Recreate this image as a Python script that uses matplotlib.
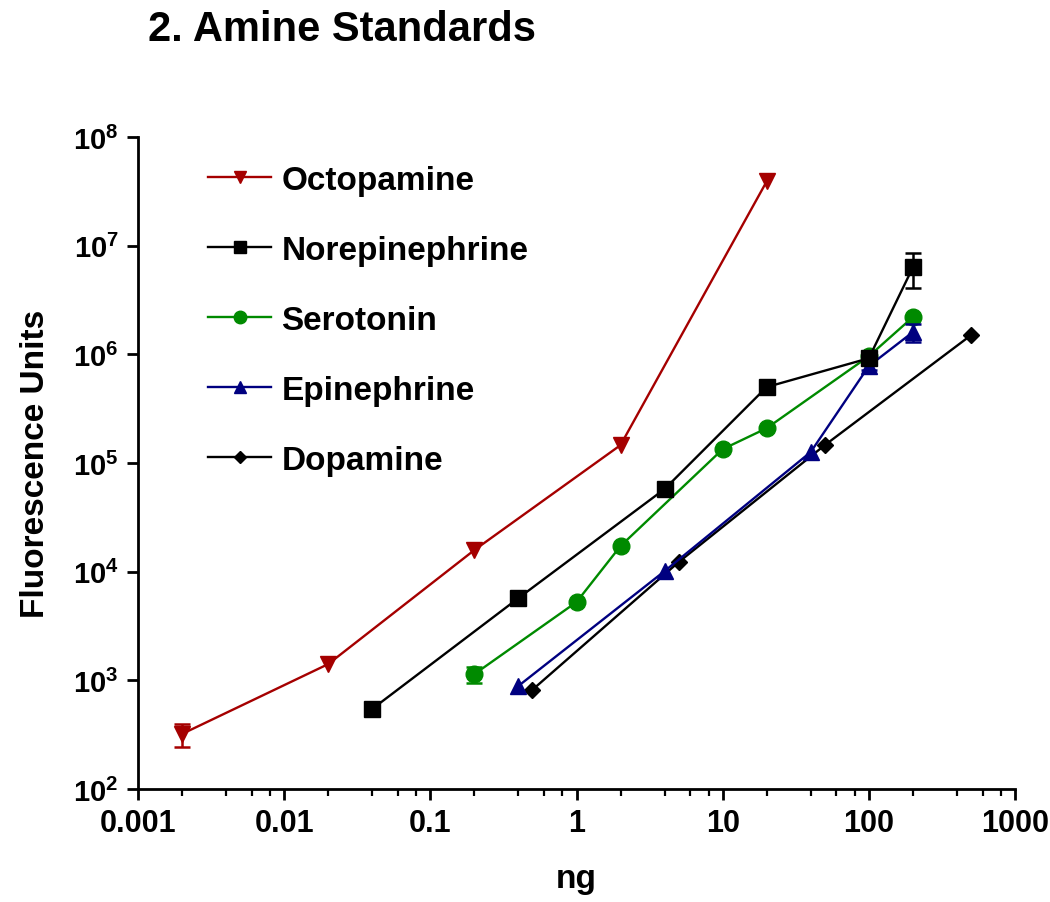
import numpy as np
import matplotlib
matplotlib.use("Agg")
import matplotlib.pyplot as plt
from matplotlib.ticker import FixedLocator, FuncFormatter, NullFormatter

plt.rcParams['font.family'] = ['Liberation Sans', 'DejaVu Sans']
plt.rcParams['font.weight'] = 'bold'
plt.rcParams['mathtext.fontset'] = 'custom'
plt.rcParams['mathtext.rm'] = 'Liberation Sans:bold'
plt.rcParams['mathtext.bf'] = 'Liberation Sans:bold'

# ---- data ----
names = ["Octopamine", "Norepinephrine", "Serotonin", "Epinephrine", "Dopamine"]

octo_x = [0.002, 0.02, 0.2, 2, 20]
octo_y = [321, 1410, 15800, 146000, 3.9e7]
octo_err = [75, 0, 0, 0, 0]

ne_x = [0.04, 0.4, 4, 20, 100, 200]
ne_y = [545, 5700, 57500, 500000, 920000, 6.3e6]
ne_err = [0, 0, 0, 0, 90000, 2.2e6]

sero_x = [0.2, 1, 2, 10, 20, 100, 200]
sero_y = [1140, 5250, 17200, 134000, 209000, 960000, 2.2e6]
sero_err = [200, 0, 0, 0, 0, 0, 0]

epi_x = [0.4, 4, 40, 100, 200]
epi_y = [887, 10100, 126000, 780000, 1.6e6]
epi_err = [0, 0, 0, 60000, 3.0e5]

dopa_x = [0.5, 5, 50, 500]
dopa_y = [820, 12250, 146000, 1.5e6]
dopa_err = [0, 0, 0, 0]

x_ticks = [0.001, 0.01, 0.1, 1, 10, 100, 1000]
x_ticklabels = ["0.001", "0.01", "0.1", "1", "10", "100", "1000"]
y_ticks = [1e2, 1e3, 1e4, 1e5, 1e6, 1e7, 1e8]

series = [
    (octo_x, octo_y, octo_err, "#A50000", "v", 12),
    (ne_x, ne_y, ne_err, "#000000", "s", 12),
    (sero_x, sero_y, sero_err, "#008A00", "o", 12),
    (epi_x, epi_y, epi_err, "#000080", "^", 12),
    (dopa_x, dopa_y, dopa_err, "#000000", "D", 8),
]

W, H = 1050, 903
fig = plt.figure(figsize=(W / 100, H / 100), dpi=100)
ax = fig.add_axes([138 / W, 1 - 790 / H, (1015 - 138) / W, (790 - 138) / H])

handles = [None] * len(series)
zorders = [3, 6, 4, 5, 2]
for i in [4, 3, 2, 0, 1]:
    xs, ys, es, col, mk, ms = series[i]
    xs = np.array(xs); ys = np.array(ys); es = np.array(es, dtype=float)
    z = zorders[i]
    mask = es > 0
    if mask.any():
        ax.errorbar(xs[mask], ys[mask], yerr=es[mask], fmt="none", ecolor=col,
                    elinewidth=1.8, capsize=6, capthick=1.8, zorder=z)
    h, = ax.plot(xs, ys, color=col, marker=mk, markersize=ms, linewidth=1.7,
                 markeredgecolor=col, label=names[i], zorder=z + 0.5, clip_on=False)
    handles[i] = h

ax.set_xscale("log")
ax.set_yscale("log")
ax.set_xlim(0.001, 1000)
ax.set_ylim(1e2, 1e8)

ax.xaxis.set_major_locator(FixedLocator(x_ticks))
ax.xaxis.set_major_formatter(FuncFormatter(lambda v, p: x_ticklabels[x_ticks.index(v)] if v in x_ticks else ""))
minors = [m * d for d in [0.001, 0.01, 0.1, 1, 10, 100] for m in [2, 4, 6, 8]]
ax.xaxis.set_minor_locator(FixedLocator(minors))
ax.xaxis.set_minor_formatter(NullFormatter())

ax.yaxis.set_major_locator(FixedLocator(y_ticks))
ax.yaxis.set_major_formatter(FuncFormatter(lambda v, p: r"$\mathbf{10^{%d}}$" % int(round(np.log10(v)))))
ax.yaxis.set_minor_locator(FixedLocator([]))

for s in ["top", "right"]:
    ax.spines[s].set_visible(False)
for s in ["left", "bottom"]:
    ax.spines[s].set_linewidth(2.0)

ax.tick_params(axis="x", which="major", direction="out", length=8, width=2.0,
               labelsize=22, pad=6)
ax.tick_params(axis="y", which="major", direction="out", length=8, width=2.0,
               labelsize=21, pad=6)
ax.tick_params(axis="x", which="minor", direction="out", length=5, width=1.6)
for lab in ax.get_xticklabels() + ax.get_yticklabels():
    lab.set_fontweight("bold")

ax.set_xlabel("ng", fontsize=24, fontweight="bold", labelpad=18)
ax.set_ylabel("Fluorescence Units", fontsize=24, fontweight="bold", labelpad=16)

leg = ax.legend(handles=handles, labels=names, loc="upper left",
                bbox_to_anchor=(208 / W, 1 - 166 / H), bbox_transform=fig.transFigure,
                frameon=False, fontsize=24, handlelength=1.9, handletextpad=0.3,
                labelspacing=1.17, markerscale=0.75, borderaxespad=0, borderpad=0)
for t in leg.get_texts():
    t.set_fontweight("bold")

fig.text(148 / W, 1 - 30 / H, "2. Amine Standards", fontsize=30, fontweight="bold",
         ha="left", va="center")

fig.savefig("out.png", dpi=100)
